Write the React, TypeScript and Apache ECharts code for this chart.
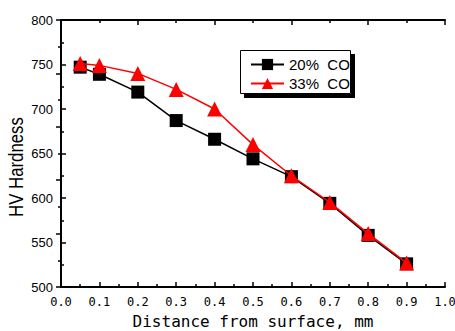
import React, { useEffect, useRef } from "react";
import * as echarts from "echarts";

const distances = [0.05, 0.1, 0.2, 0.3, 0.4, 0.5, 0.6, 0.7, 0.8, 0.9];
const hv20 = [747, 739, 719, 687, 666, 644, 624, 594, 558, 526];
const hv33 = [751, 749, 740, 722, 700, 660, 625, 595, 560, 527];
const seriesNames = ["20%  CO", "33%  CO"];
const xTitle = "Distance from surface, mm";
const yTitle = "HV Hardness";

export default function App() {
  const ref = useRef<HTMLDivElement>(null);
  useEffect(() => {
    if (!ref.current) return;
    const chart = echarts.init(ref.current, undefined, { renderer: "svg" });
    const axisLine = { show: true, lineStyle: { color: "#000", width: 2 } };
    chart.setOption({
      animation: false,
      backgroundColor: "#fff",
      grid: { left: 61, right: 10, top: 20, bottom: 44, containLabel: false, outerBoundsMode: "none" },
      graphic: [
        {
          type: "rect",
          left: 244,
          top: 94,
          shape: { width: 110, height: 4 },
          style: { fill: "#000" },
          z: 50,
          silent: true,
        },
        {
          type: "rect",
          left: 351,
          top: 54,
          shape: { width: 4, height: 44 },
          style: { fill: "#000" },
          z: 50,
          silent: true,
        },
        {
          type: "rect",
          left: 240,
          top: 50,
          shape: { width: 110, height: 43 },
          style: { fill: "#fff", stroke: "#000", lineWidth: 1 },
          z: 9,
          silent: true,
        },
        {
          type: "text",
          x: 16,
          y: 167,
          rotation: Math.PI / 2,
          scaleX: 0.84,
          scaleY: 1,
          style: {
            text: yTitle,
            fontFamily: "Liberation Sans",
            fontSize: 20,
            fill: "#000",
            align: "center",
            verticalAlign: "middle",
          },
          z: 10,
        },
      ],
      legend: {
        left: 240,
        top: 50,
        orient: "vertical",
        padding: [7, 2, 3, 10],
        itemGap: 4,
        itemWidth: 33,
        itemHeight: 14,
        backgroundColor: "transparent",
        borderWidth: 0,
        z: 20,
        textStyle: { fontFamily: "Liberation Sans", fontSize: 15, color: "#000" },
        data: seriesNames,
      },
      xAxis: [
        {
          type: "value",
          min: 0,
          max: 1,
          interval: 0.1,
          position: "bottom",
          axisLine,
          axisTick: { show: true, inside: true, length: 5, lineStyle: { color: "#000", width: 1.5 } },
          minorTick: { show: true, splitNumber: 2, length: 3, lineStyle: { color: "#000", width: 1.5 } },
          splitLine: { show: false },
          axisLabel: {
            formatter: (v: number) => v.toFixed(1),
            fontFamily: "DejaVu Sans Mono",
            fontSize: 12,
            color: "#000",
            margin: 9,
          },
          name: xTitle,
          nameLocation: "middle",
          nameGap: 26,
          nameTextStyle: { fontFamily: "DejaVu Sans Mono", fontSize: 16, color: "#000" },
        },
        {
          type: "value",
          min: 0,
          max: 1,
          interval: 0.2,
          position: "top",
          axisLine,
          axisTick: { show: true, inside: true, length: 5, lineStyle: { color: "#000", width: 1.5 } },
          minorTick: { show: true, splitNumber: 2, length: 3, lineStyle: { color: "#000", width: 1.5 } },
          splitLine: { show: false },
          axisLabel: { show: false },
        },
      ],
      yAxis: [
        {
          type: "value",
          min: 500,
          max: 800,
          interval: 50,
          position: "left",
          axisLine,
          axisTick: { show: true, inside: true, length: 5, lineStyle: { color: "#000", width: 1.5 } },
          minorTick: { show: true, splitNumber: 2, length: 3, lineStyle: { color: "#000", width: 1.5 } },
          splitLine: { show: false },
          axisLabel: { fontFamily: "Liberation Sans", fontSize: 13, color: "#000", margin: 8 },
        },
        {
          type: "value",
          min: 500,
          max: 800,
          interval: 60,
          position: "right",
          axisLine,
          axisTick: { show: true, inside: true, length: 5, lineStyle: { color: "#000", width: 1.5 } },
          minorTick: { show: true, splitNumber: 2, length: 3, lineStyle: { color: "#000", width: 1.5 } },
          splitLine: { show: false },
          axisLabel: { show: false },
        },
      ],
      series: [
        {
          name: seriesNames[0],
          type: "line",
          xAxisIndex: 0,
          yAxisIndex: 0,
          data: distances.map((d, i) => [d, hv20[i]]),
          symbol: "rect",
          symbolSize: 13,
          lineStyle: { color: "#000", width: 1.5 },
          itemStyle: { color: "#000" },
          z: 2,
        },
        {
          name: seriesNames[1],
          type: "line",
          xAxisIndex: 0,
          yAxisIndex: 0,
          data: distances.map((d, i) => [d, hv33[i]]),
          symbol: "triangle",
          symbolSize: 15,
          lineStyle: { color: "#ff0000", width: 1.5 },
          itemStyle: { color: "#ff0000" },
          z: 3,
        },
      ],
    });
    return () => chart.dispose();
  }, []);
  return <div ref={ref} style={{ width: 455, height: 331, position: "absolute", left: 0, top: 0 }} />;
}
